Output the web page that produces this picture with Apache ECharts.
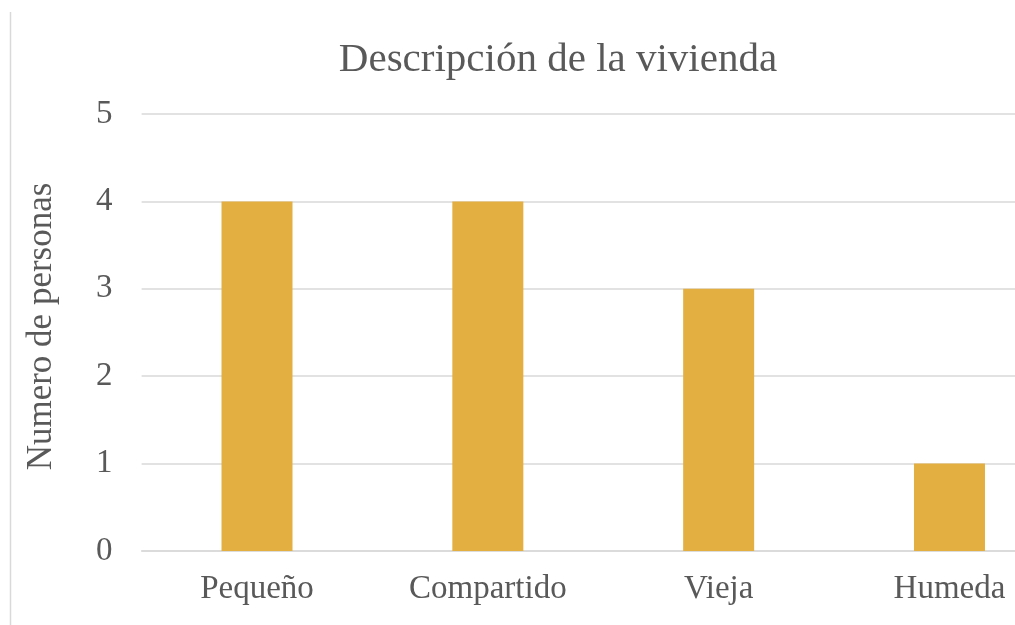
<!DOCTYPE html>
<html>
<head>
<meta charset="utf-8">
<script src="https://cdn.jsdelivr.net/npm/echarts@6/dist/echarts.min.js"></script>
<style>html,body{margin:0;padding:0;background:#fff}#c{width:1015px;height:625px}</style>
</head>
<body>
<div id="c"></div>
<script>
const titleText = 'Descripción de la vivienda';
const yAxisName = 'Numero de personas';
const categories = ['Pequeño', 'Compartido', 'Vieja', 'Humeda'];
const values = [4, 4, 3, 1];
const yTicks = { min: 0, max: 5, interval: 1 };

const font = '"Liberation Serif", "Times New Roman", serif';
const textColor = '#595959';

const chart = echarts.init(document.getElementById('c'), null, { renderer: 'canvas' });
chart.setOption({
  backgroundColor: '#ffffff',
  animation: false,
  title: {
    text: titleText,
    left: 553,
    textAlign: 'center',
    top: 35,
    textStyle: { fontFamily: font, fontSize: 41, fontWeight: 'normal', color: textColor }
  },
  graphic: [{
    type: 'line',
    shape: { x1: 10.5, y1: 12, x2: 10.5, y2: 625 },
    style: { stroke: '#d9d9d9', lineWidth: 1.5 }
  }],
  grid: { left: 141.6, width: 923.3, top: 114, height: 437, containLabel: false, outerBoundsMode: 'none' },
  xAxis: {
    type: 'category',
    data: categories,
    axisLine: { show: true, lineStyle: { color: '#d9d9d9', width: 1.5 } },
    axisTick: { show: false },
    axisLabel: { fontFamily: font, fontSize: 33, color: textColor, margin: 22 }
  },
  yAxis: {
    type: 'value',
    min: yTicks.min, max: yTicks.max, interval: yTicks.interval,
    name: yAxisName,
    nameLocation: 'middle',
    nameRotate: 90,
    nameGap: 82,
    nameTextStyle: { fontFamily: font, fontSize: 35, color: textColor, padding: [0, 0, 0, 12] },
    axisLine: { show: false },
    axisTick: { show: false },
    axisLabel: { fontFamily: font, fontSize: 33, color: textColor, margin: 29 },
    splitLine: { lineStyle: { color: '#d9d9d9', width: 1.5 } }
  },
  series: [{
    type: 'bar',
    data: values,
    barWidth: 71,
    itemStyle: { color: '#e3af40' }
  }]
});
</script>
</body>
</html>
